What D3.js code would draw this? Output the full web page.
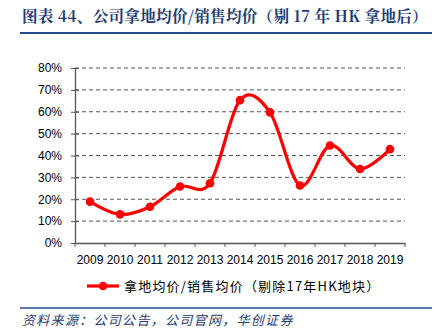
<!DOCTYPE html>
<html><head><meta charset="utf-8">
<script src="https://cdn.jsdelivr.net/npm/d3@7"></script>
<style>body{margin:0;background:#fff}svg{display:block}</style>
</head><body>
<script>
const years = ["2009","2010","2011","2012","2013","2014","2015","2016","2017","2018","2019"];
const ratio = [0.189, 0.131, 0.166, 0.258, 0.273, 0.653, 0.597, 0.263, 0.446, 0.338, 0.429];
const yTicks = [0,0.1,0.2,0.3,0.4,0.5,0.6,0.7,0.8];
const titleText = "图表 44、公司拿地均价/销售均价（剔 17 年 HK 拿地后）";
const legendText = "拿地均价/销售均价（剔除17年HK地块）";
const sourceText = "资料来源：公司公告，公司官网，华创证券";

const W=439,H=335;
const svg=d3.select("body").append("svg").attr("width",W).attr("height",H);
const cjk="'Noto Sans CJK SC',sans-serif";
const serifCjk="'Noto Serif CJK SC','Noto Sans CJK SC',serif";
const blue="#1f3b73";

svg.append("text").attr("x",22).attr("y",22).attr("font-family",serifCjk).attr("font-weight","bold")
  .attr("font-size",15.6).attr("letter-spacing",0.25).attr("fill",blue).text(titleText);
svg.append("line").attr("x1",20).attr("x2",432).attr("y1",33).attr("y2",33).attr("stroke","#1f4e8c").attr("stroke-width",2);

const x=d3.scaleBand().domain(years).range([75,405]);
const y=d3.scaleLinear().domain([0,0.8]).range([243,68]);

const g=svg.append("g");
g.selectAll("line.grid").data(yTicks.filter(d=>d>0)).join("line")
  .attr("x1",75).attr("x2",405).attr("y1",d=>y(d)).attr("y2",d=>y(d))
  .attr("stroke","#555").attr("stroke-width",1).attr("stroke-dasharray","4,3");

const yAxis=g.append("g").attr("transform","translate(75,0)")
  .call(d3.axisLeft(y).tickValues(yTicks).tickFormat(d3.format(".0%")).tickSize(4).tickSizeOuter(0));
yAxis.selectAll("text").attr("font-family","'Liberation Sans',Arial,sans-serif").attr("font-size",12).attr("fill","#000").attr("x",-13);
yAxis.selectAll(".tick line").attr("stroke","#555").attr("x2",4).attr("x1",-4);
yAxis.select(".domain").attr("stroke","#555").attr("stroke-width",1.3);

const xAxis=g.append("g").attr("transform","translate(0,243)")
  .call(d3.axisBottom(x).tickSize(0).tickSizeOuter(0));
xAxis.select(".domain").attr("stroke","#555").attr("stroke-width",1.3);
xAxis.selectAll("text").attr("font-family","'Liberation Sans',Arial,sans-serif").attr("font-size",12).attr("fill","#000").attr("dy","1.5em");
const bounds=years.map(d=>x(d)).concat([x.range()[1]]);
g.selectAll("line.xt").data(bounds).join("line")
  .attr("x1",d=>d).attr("x2",d=>d).attr("y1",243).attr("y2",247).attr("stroke","#555");

const line=d3.line().x((d,i)=>x(years[i])+x.bandwidth()/2).y(d=>y(d)).curve(d3.curveCatmullRom.alpha(0));
g.append("path").datum(ratio).attr("d",line).attr("fill","none").attr("stroke","#ff0000").attr("stroke-width",3.2);
g.selectAll("circle").data(ratio).join("circle")
  .attr("cx",(d,i)=>x(years[i])+x.bandwidth()/2).attr("cy",d=>y(d)).attr("r",4.3).attr("fill","#ff0000");

const lg=svg.append("g");
lg.append("line").attr("x1",87).attr("x2",119).attr("y1",286).attr("y2",286).attr("stroke","#ff0000").attr("stroke-width",3.2);
lg.append("circle").attr("cx",103).attr("cy",286).attr("r",4.3).attr("fill","#ff0000");
lg.append("text").attr("x",124).attr("y",291).attr("font-family",cjk).attr("font-size",13).attr("letter-spacing",1.2).attr("fill","#000").text(legendText);

svg.append("line").attr("x1",20).attr("x2",432).attr("y1",308).attr("y2",308).attr("stroke","#1f4e8c").attr("stroke-width",1.5);
svg.append("text").attr("x",22).attr("y",325).attr("font-family",cjk).attr("font-style","italic")
  .attr("font-size",13).attr("letter-spacing",1.3).attr("fill",blue).text(sourceText);
</script>
</body></html>
